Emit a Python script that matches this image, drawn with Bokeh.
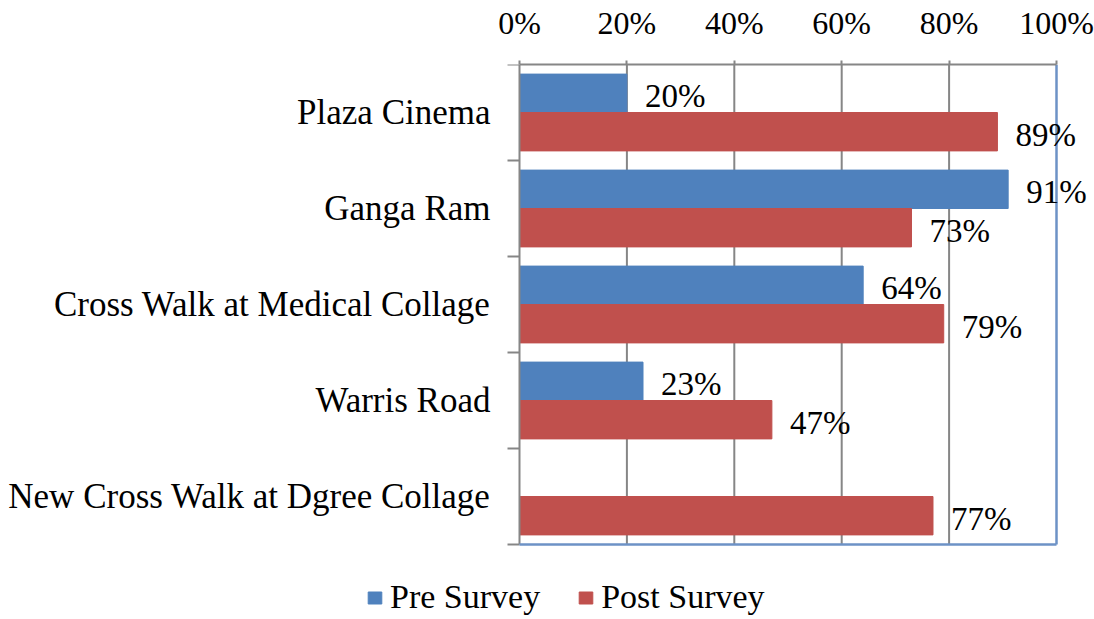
import math
from bokeh.plotting import figure
from bokeh.models import (Range1d, FixedTicker, LinearAxis, ColumnDataSource, LabelSet,
                          Legend, LegendItem)
from bokeh.core.properties import value
from bokeh.embed import file_html
from bokeh.resources import INLINE

categories = ["Plaza Cinema", "Ganga Ram", "Cross Walk at Medical Collage",
              "Warris Road", "New Cross Walk at Dgree Collage"]
pre_survey = [20, 91, 64, 23, 0]
post_survey = [89, 73, 79, 47, 77]
x_ticks = [0, 20, 40, 60, 80, 100]
x_tick_labels = ["0%", "20%", "40%", "60%", "80%", "100%"]
series_names = ["Pre Survey", "Post Survey"]

FONT = "Liberation Serif"
BLUE = "#4F81BD"
RED = "#C0504D"
GRID = "#868686"
FRAME = "#6D92C6"

n = len(categories)
idx = list(range(n))
pre_src = ColumnDataSource(dict(
    y=[i + 0.5 - 0.2 for i in idx],
    v=[v / 100 for v in pre_survey],
    lab=[f"{v}%" if v > 0 else "" for v in pre_survey]))
post_src = ColumnDataSource(dict(
    y=[i + 0.5 + 0.2 for i in idx],
    v=[v / 100 for v in post_survey],
    lab=[f"{v}%" for v in post_survey]))

# layout (pixels): plot area from x=519..1056, y=64..544; the frame spans the whole
# canvas below the top axis so that labels and legend are not clipped
W, H = 1094, 619
LEFT, TOP, PLOT_W, PLOT_H = 519, 64, 537, 480
px_x = 1 / PLOT_W
px_y = n / PLOT_H
x_range = Range1d(-LEFT * px_x, (W - LEFT) * px_x)
y_range = Range1d((H - TOP) * px_y, 0)

p = figure(width=W, height=H, x_range=x_range, y_range=y_range,
           output_backend="svg", toolbar_location=None, x_axis_location=None,
           y_axis_location=None,
           min_border_left=0, min_border_right=0, min_border_top=TOP, min_border_bottom=0)
p.outline_line_color = None
p.xgrid.visible = False
p.ygrid.visible = False

# top axis
xa = LinearAxis(ticker=FixedTicker(ticks=[t / 100 for t in x_ticks]), bounds=(0, 1))
xa.major_label_overrides = {t / 100: l for t, l in zip(x_ticks, x_tick_labels)}
xa.major_label_text_font = FONT
xa.major_label_text_font_size = "32px"
xa.major_label_text_color = "black"
xa.axis_line_color = GRID
xa.axis_line_width = 2
xa.major_tick_line_color = GRID
xa.major_tick_line_width = 2
xa.major_tick_out = 4
xa.major_tick_in = 0
xa.minor_tick_line_color = None
xa.major_label_standoff = 20
p.add_layout(xa, "above")

# vertical gridlines
gx = [t / 100 for t in x_ticks[1:-1]]
p.segment(x0=gx, y0=[0] * len(gx), x1=gx, y1=[n] * len(gx),
          line_color=GRID, line_width=2)

r_pre = p.hbar(y="y", left=0, right="v", height=0.4, source=pre_src,
               fill_color=BLUE, line_color=BLUE)
r_post = p.hbar(y="y", left=0, right="v", height=0.4, source=post_src,
                fill_color=RED, line_color=RED)

# category axis: line, tick marks between categories, labels
p.segment(x0=[0], y0=[0], x1=[0], y1=[n], line_color=GRID, line_width=2)
p.ray(x=[0] * (n + 1), y=list(range(n + 1)), length=12, length_units="screen",
      angle=math.pi, line_color=GRID, line_width=2)
p.text(x=[0] * n, y=[i + 0.5 for i in idx], text=categories, x_offset=-29,
       text_align="right", text_baseline="middle", text_font=value(FONT),
       text_font_size="35px", text_color="black")

# plot-area border (right and bottom)
p.segment(x0=[1, 0], y0=[0, n], x1=[1, 1], y1=[n, n],
          line_color=FRAME, line_width=2.5)

for src in (pre_src, post_src):
    p.add_layout(LabelSet(x="v", y="y", text="lab", source=src, x_offset=18, y_offset=-3,
                          text_baseline="middle", text_font=FONT, text_font_size="33px",
                          text_color="black"))

legend = Legend(items=[LegendItem(label=series_names[0], renderers=[r_pre]),
                       LegendItem(label=series_names[1], renderers=[r_post])],
                orientation="horizontal", location=(366, 3),
                glyph_width=17, glyph_height=15, label_standoff=7, spacing=37,
                label_text_font=FONT, label_text_font_size="34px", label_text_color="black",
                border_line_color=None, background_fill_alpha=0, padding=0, margin=0)
p.add_layout(legend)

open("out.html", "w").write(file_html(p, INLINE))
